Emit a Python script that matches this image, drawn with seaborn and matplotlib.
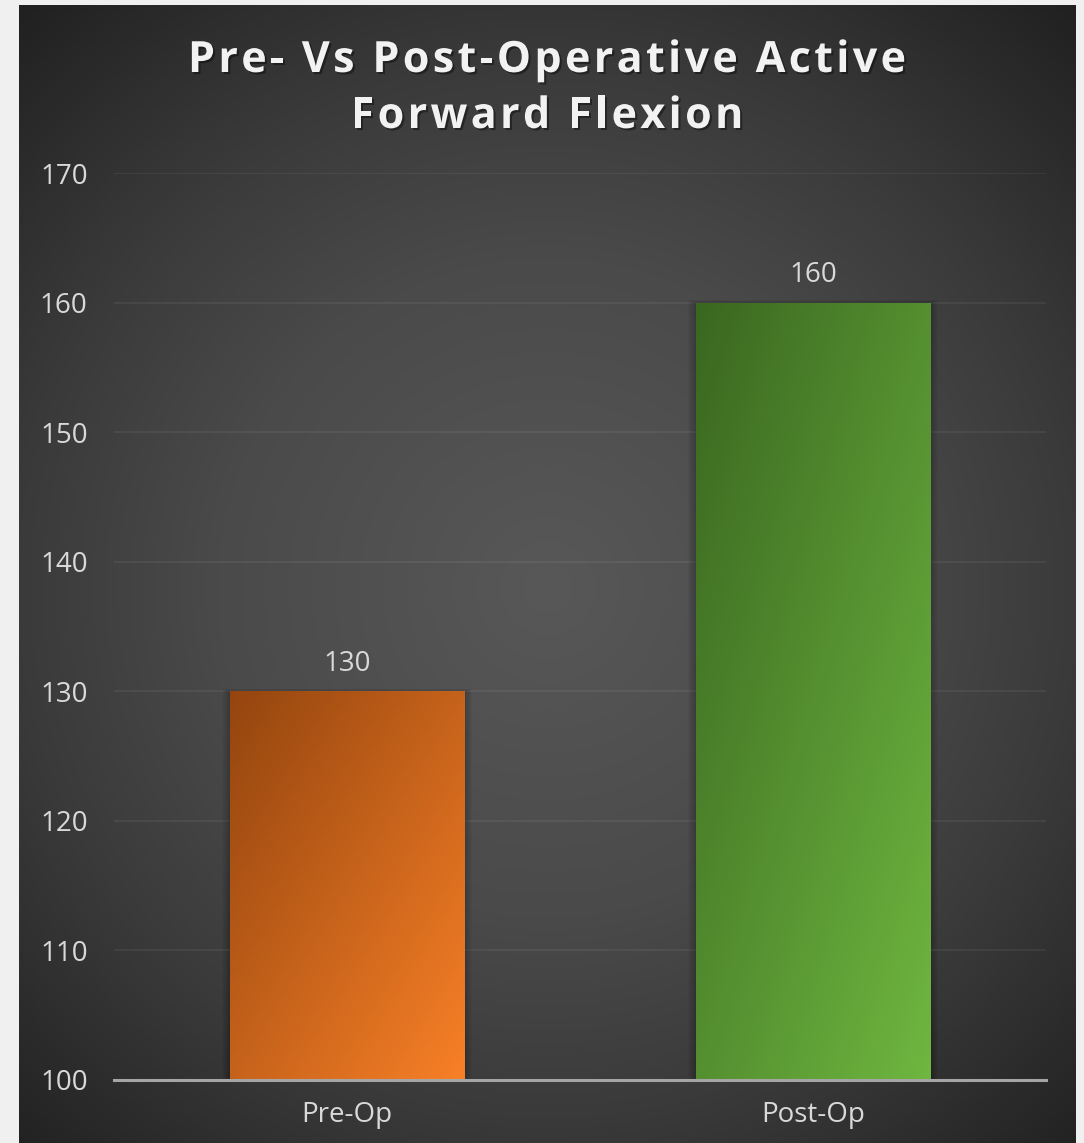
import numpy as np
import matplotlib
matplotlib.use("Agg")
import matplotlib.pyplot as plt
import matplotlib.patheffects as pe
import seaborn as sns
from matplotlib import font_manager
from matplotlib.colors import to_rgb
from matplotlib.patches import Rectangle

# ---- data -------------------------------------------------------------
categories = ["Pre-Op", "Post-Op"]
flexion_deg = [130, 160]
y_ticks = [100, 110, 120, 130, 140, 150, 160, 170]
title_lines = ["Pre- Vs Post-Operative Active", "Forward Flexion"]

# ---- figure -----------------------------------------------------------
W, H, DPI = 1084, 1143, 100
sns.set_theme(style="white")
plt.rcParams["font.family"] = ["Open Sans", "DejaVu Sans"]

fig = plt.figure(figsize=(W / DPI, H / DPI), dpi=DPI, facecolor="#f0f0f0")

# dark panel with a soft radial glow in the middle
px0, px1, py0, py1 = 19, 1076, 5, 1143
bg = fig.add_axes([px0 / W, (H - py1) / H, (px1 - px0) / W, (py1 - py0) / H])
xs = np.arange(px0, px1) + 0.5
ys = np.arange(py0, py1) + 0.5
X, Y = np.meshgrid(xs, ys)
R = np.hypot(X - 548, Y - 588)
lum = np.interp(R, [0, 330, 530, 800], [88, 74, 58, 31]) / 255.0
bg.imshow(np.dstack([lum] * 3), aspect="auto", interpolation="bilinear")
bg.set_axis_off()

# ---- bar axes ---------------------------------------------------------
ax_l, ax_r, y_base, y_top = 114, 1046, 1080, 173
ax = fig.add_axes([ax_l / W, (H - y_base) / H, (ax_r - ax_l) / W, (y_base - y_top) / H])
ax.set_facecolor("none")

palette = ["#d0661d", "#58982f"]
sns.barplot(x=categories, y=flexion_deg, hue=categories, palette=palette,
            legend=False, width=0.504, ax=ax, zorder=3, linewidth=0)

ymin, ymax = 100, 170
grad_colors = [("#94450f", "#f88027"), ("#3a6720", "#6fb740")]
px_x = 2.0 / (ax_r - ax_l)               # data units per pixel (x)
px_y = (ymax - ymin) / (y_base - y_top)  # data units per pixel (y)

for patch, (c0, c1), val in zip(ax.patches, grad_colors, flexion_deg):
    x0, w = patch.get_x(), patch.get_width()
    top = patch.get_height()
    # diagonal gradient fill, clipped to the bar
    u = np.linspace(0, 1, 200)[None, :]
    v = np.linspace(0, 1, 400)[:, None]
    t = (u + v) / 2
    rgb = (1 - t)[..., None] * np.array(to_rgb(c0)) + t[..., None] * np.array(to_rgb(c1))
    im = ax.imshow(rgb, extent=[x0, x0 + w, ymin, top], aspect="auto",
                   origin="upper", interpolation="bilinear", zorder=3.5)
    im.set_clip_path(patch)
    # soft outer shadow
    for k in range(1, 9):
        ax.add_patch(Rectangle((x0 - k * px_x, ymin), w + 2 * k * px_x,
                               top - ymin + k * px_y * 0.3,
                               facecolor="black", alpha=0.028, lw=0, zorder=2.5))
    # value label
    ax.annotate(f"{val}", (x0 + w / 2, val), xytext=(0, 14.5),
                textcoords="offset points", ha="center", va="baseline",
                fontsize=20, color="#d9d9d9", zorder=6)

ax.set_xlim(-0.5, 1.5)
ax.set_ylim(ymin, ymax)
ax.set_yticks(y_ticks)
ax.set_xlabel("")
ax.set_ylabel("")
ax.yaxis.grid(True, color="white", alpha=0.08, lw=1.1)
ax.xaxis.grid(False)
ax.set_axisbelow(True)
for side in ["left", "right", "top"]:
    ax.spines[side].set_visible(False)
ax.spines["bottom"].set_color("#a5a5a5")
ax.spines["bottom"].set_linewidth(2.2)
ax.spines["bottom"].set_zorder(5)
ax.tick_params(axis="y", length=0, pad=19, labelsize=20, labelcolor="#d9d9d9")
ax.tick_params(axis="x", length=0, pad=15, labelsize=20, labelcolor="#d9d9d9")

# ---- letter-spaced title ---------------------------------------------
title_fp = font_manager.FontProperties(family="Open Sans", weight="bold")
title_pt = 31
ft = font_manager.get_font(font_manager.findfont(title_fp))
ft.set_size(title_pt, DPI)


def advances(s):
    return np.array([ft.load_char(ord(c)).linearHoriAdvance / 65536.0 for c in s])


adv1 = advances(title_lines[0])
spacing = (718 - adv1.sum()) / (len(title_lines[0]) - 1)
shadow = [pe.withSimplePatchShadow(offset=(1.5, -1.5), shadow_rgbFace="black", alpha=0.4)]

for line, base_y in zip(title_lines, [72, 128]):
    adv = advances(line)
    total = adv.sum() + spacing * (len(line) - 1)
    x = 547 - total / 2
    for ch, a in zip(line, adv):
        if ch != " ":
            fig.text(x / W, 1 - base_y / H, ch, fontproperties=title_fp,
                     fontsize=title_pt, color="#f2f2f2", ha="left", va="baseline",
                     path_effects=shadow)
        x += a + spacing

fig.savefig("out.png", dpi=DPI, facecolor=fig.get_facecolor())
